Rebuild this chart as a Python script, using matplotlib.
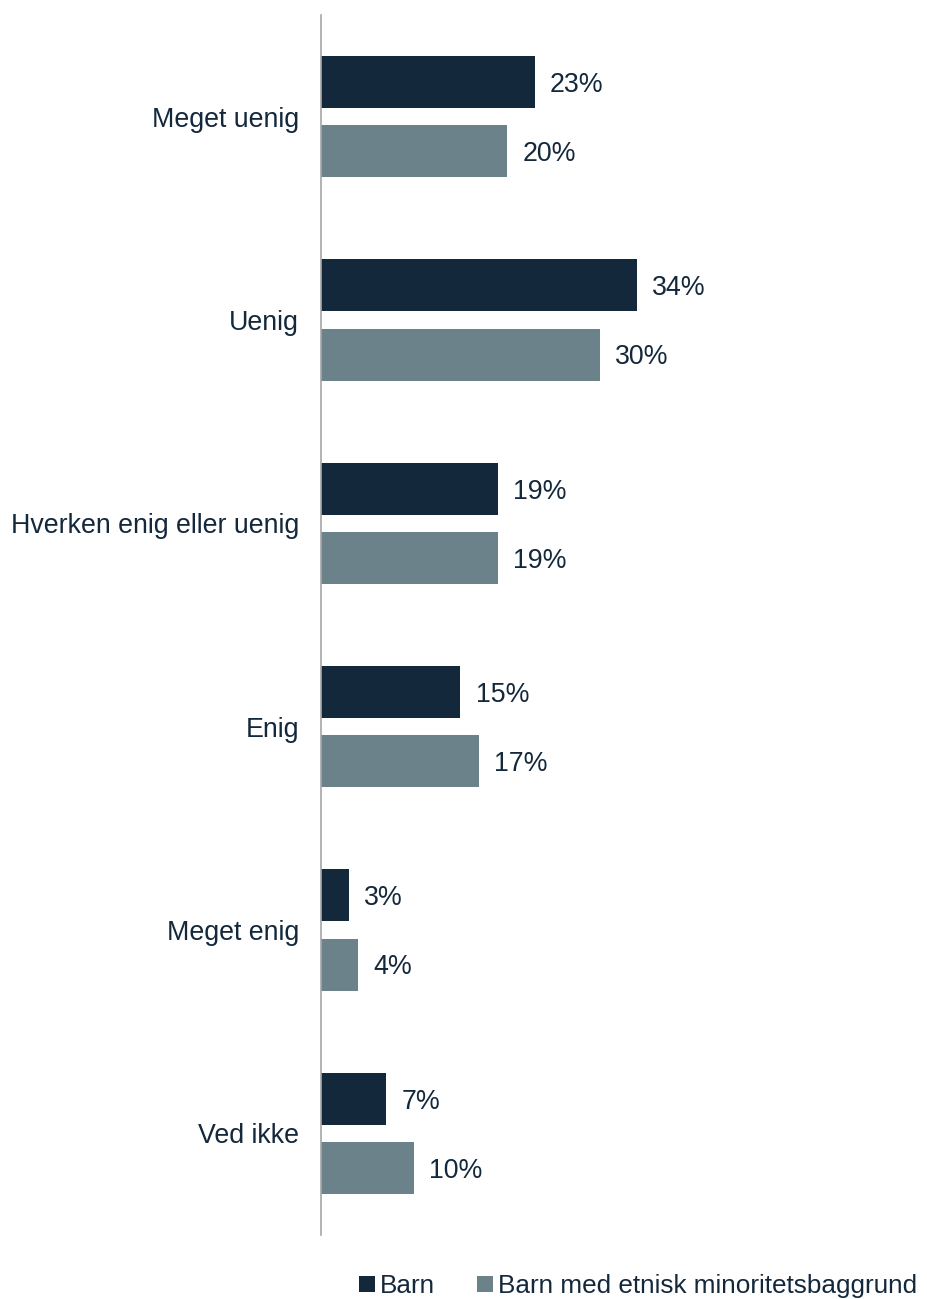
import numpy as np
import matplotlib.pyplot as plt

categories = ["Meget uenig", "Uenig", "Hverken enig eller uenig", "Enig", "Meget enig", "Ved ikke"]
barn = [23, 34, 19, 15, 3, 7]
minoritet = [20, 30, 19, 17, 4, 10]
series_names = ["Barn", "Barn med etnisk minoritetsbaggrund"]

dark = "#14283c"
grey = "#6b828a"

plt.rcParams['font.family'] = ['Liberation Sans', 'DejaVu Sans']

fig = plt.figure(figsize=(9.27, 12.99), dpi=100)
ax = fig.add_axes([321/927, 64/1299, 579/927, 1220/1299])

y = np.arange(len(categories))
h = 0.256
b1 = ax.barh(y - 0.17, barn, height=h, color=dark, label=series_names[0])
b2 = ax.barh(y + 0.17, minoritet, height=h, color=grey, label=series_names[1])

# value labels to the right of each bar
for bars, vals in ((b1, barn), (b2, minoritet)):
    for bar, v in zip(bars, vals):
        ax.annotate(f"{v}%", (bar.get_width(), bar.get_y() + bar.get_height() / 2),
                    xytext=(11, -2), textcoords="offset points",
                    va="center", ha="left", fontsize=19.3, color=dark)

ax.set_xlim(0, 62.3)
ax.set_ylim(5.5, -0.5)
ax.set_yticks(y)
ax.set_yticklabels(categories, fontsize=19.3, color=dark)
ax.tick_params(axis="y", length=0, pad=16)
ax.set_xticks([])
for s in ("top", "right", "bottom"):
    ax.spines[s].set_visible(False)
ax.spines["left"].set_color("#a6a6a6")
ax.spines["left"].set_linewidth(1.2)

leg = fig.legend(handles=[b1, b2], loc="center", bbox_to_anchor=(638/927, 1 - 1286/1299),
                 ncol=2, frameon=False, fontsize=18.8, handlelength=0.6, handleheight=0.6,
                 handletextpad=0.2, columnspacing=1.6, borderpad=0.2)
for t in leg.get_texts():
    t.set_color(dark)

fig.savefig("out.png", dpi=100)
